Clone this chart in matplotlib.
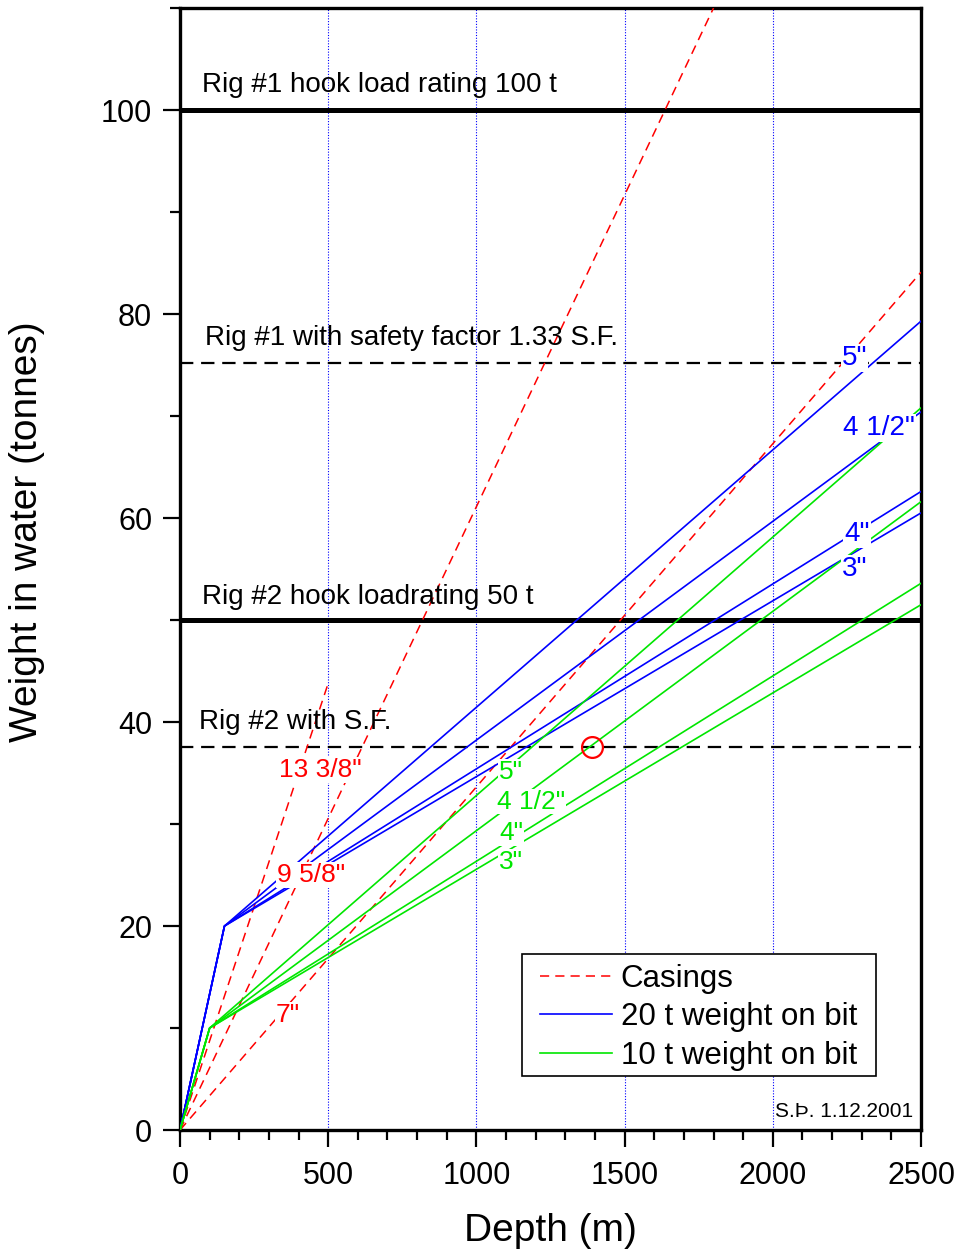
import matplotlib
matplotlib.use("Agg")
from matplotlib import pyplot as plt
from matplotlib.ticker import MultipleLocator
from matplotlib.patches import Rectangle

plt.rcParams['font.family'] = ['Liberation Sans', 'DejaVu Sans']

# casings: depth (m) -> weight (t)
casing_names = ['13 3/8"', '9 5/8"', '7"']
casing_depth = [[0, 500], [0, 1800], [0, 2500]]
casing_weight = [[0, 43.8], [0, 110], [0, 84.1]]

# drill strings, 20 t weight on bit (collars to 150 m / 20 t)
pipe_names = ['5"', '4 1/2"', '4"', '3"']
depth_20t = [0, 150, 2500]
weight_20t = [[0, 20, 79.3], [0, 20, 70.4], [0, 20, 62.6], [0, 20, 60.5]]

# drill strings, 10 t weight on bit (collars to 100 m / 10 t)
depth_10t = [0, 100, 2500]
weight_10t = [[0, 10, 70.8], [0, 10, 61.6], [0, 10, 53.6], [0, 10, 51.5]]

rig1_rating = 100
rig2_rating = 50
safety_factor = 1.33
marked_point = (1390, 37.6)

casing_label_pos = [(472, 35.3), (442, 25.0), (364, 11.3)]
label_pos_20t = [(2277, 75.7), (2358, 68.8), (2284, 58.4), (2277, 55.0)]
label_pos_10t = [(1117, 35.1), (1184, 32.2), (1117, 29.1), (1117, 26.3)]

red = '#ff0000'
blue = '#0000ff'
green = '#00e600'

fig = plt.figure(figsize=(9.56, 12.51), dpi=100)
ax = fig.add_axes([0.1883, 0.0967, 0.7751, 0.8969])

for x in [500, 1000, 1500, 2000]:
    ax.axvline(x, color=blue, lw=0.8, ls=(0, (1, 1.5)), zorder=1)

for i, name in enumerate(casing_names):
    ax.plot(casing_depth[i], casing_weight[i], color=red, lw=1.1, ls=(0, (6, 4)),
            label='Casings' if i == 0 else None, zorder=3)
for i, name in enumerate(pipe_names):
    ax.plot(depth_20t, weight_20t[i], color=blue, lw=1.2,
            label='20 t weight on bit' if i == 0 else None, zorder=3)
for i, name in enumerate(pipe_names):
    ax.plot(depth_10t, weight_10t[i], color=green, lw=1.2,
            label='10 t weight on bit' if i == 0 else None, zorder=3)

ax.axhline(rig1_rating, color='black', lw=3.6, zorder=2)
ax.axhline(rig2_rating, color='black', lw=3.6, zorder=2)
ax.axhline(rig1_rating / safety_factor, color='black', lw=1.6, ls=(0, (6, 3.5)), zorder=2)
ax.axhline(rig2_rating / safety_factor, color='black', lw=1.6, ls=(0, (6, 3.5)), zorder=2)

ax.plot(*marked_point, 'o', ms=15, mfc='none', mec=red, mew=1.6, zorder=5)

fs = 20
ax.text(74, 102.5, 'Rig #1 hook load rating 100 t', fontsize=fs, va='center')
ax.text(84, 77.6, 'Rig #1 with safety factor 1.33 S.F.', fontsize=fs, va='center')
ax.text(74, 52.3, 'Rig #2 hook loadrating 50 t', fontsize=fs, va='center')
ax.text(64, 40.0, 'Rig #2 with S.F.', fontsize=fs, va='center')

box = dict(facecolor='white', edgecolor='none', pad=0.5)
for name, (x, y) in zip(casing_names, casing_label_pos):
    ax.text(x, y, name, color=red, fontsize=19, ha='center', va='center', bbox=box, zorder=4)
for name, (x, y) in zip(pipe_names, label_pos_20t):
    ax.text(x, y, name, color=blue, fontsize=fs, ha='center', va='center', bbox=box, zorder=4)
for name, (x, y) in zip(pipe_names, label_pos_10t):
    ax.text(x, y, name, color=green, fontsize=19, ha='center', va='center', bbox=box, zorder=4)

ax.text(0.99, 0.008, 'S.Þ. 1.12.2001', transform=ax.transAxes, fontsize=15,
        ha='right', va='bottom')

ax.set_xlim(0, 2500)
ax.set_ylim(0, 110)
ax.xaxis.set_major_locator(MultipleLocator(500))
ax.xaxis.set_minor_locator(MultipleLocator(100))
ax.yaxis.set_major_locator(MultipleLocator(20))
ax.yaxis.set_minor_locator(MultipleLocator(10))
ax.tick_params(which='major', direction='out', length=12, width=1.6, labelsize=22, pad=8)
ax.tick_params(axis='x', which='major', pad=10)
ax.tick_params(which='minor', direction='out', length=7, width=1.6)
for sp in ax.spines.values():
    sp.set_linewidth(2.4)

ax.set_xlabel('Depth (m)', fontsize=28, labelpad=16)
ax.set_ylabel('Weight in water (tonnes)', fontsize=28)
ax.yaxis.set_label_coords(-0.182, 0.533)

# legend: frame drawn separately so the inner padding can match
ax.add_patch(Rectangle((0.4615, 0.0481), 0.4775, 0.1087, transform=ax.transAxes,
                       facecolor='white', edgecolor='black', lw=1.2, zorder=4.5))
leg = ax.legend(loc='upper left', bbox_to_anchor=(0.4858, 0.148), borderaxespad=0,
                fontsize=22.5, frameon=False, handlelength=2.3, handletextpad=0.28,
                borderpad=0, labelspacing=0.27)
leg.set_zorder(5)

fig.savefig('out.png', dpi=100)
